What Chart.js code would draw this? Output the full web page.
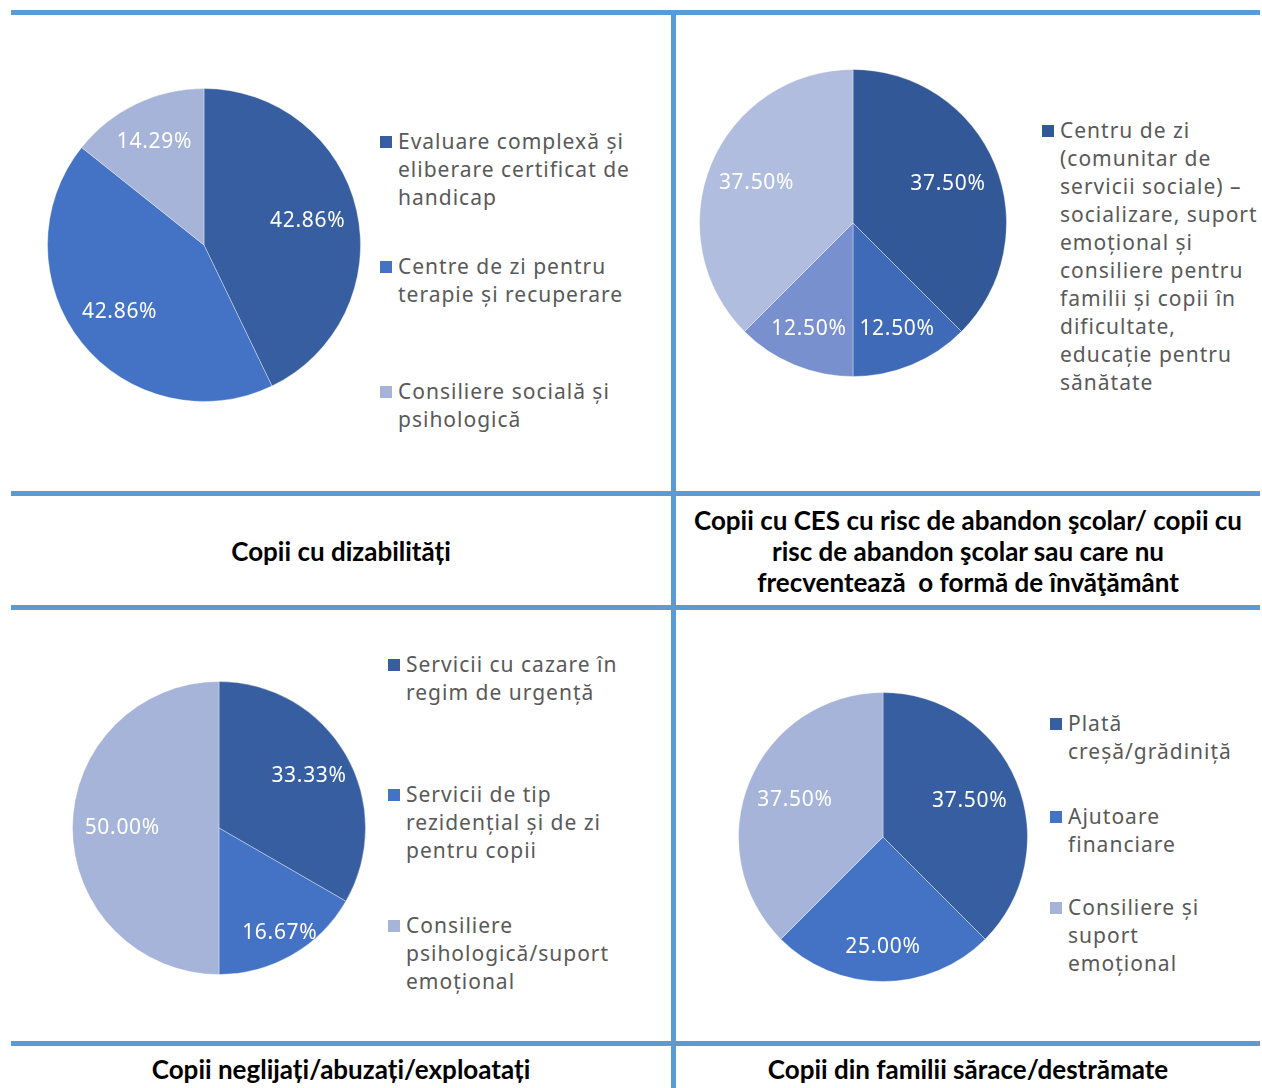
<!DOCTYPE html>
<html>
<head>
<meta charset="utf-8">
<script src="https://cdn.jsdelivr.net/npm/chart.js@4.4.1/dist/chart.umd.min.js"></script>
<style>
  body { margin:0; background:#fff; width:1262px; height:1088px; position:relative; overflow:hidden; font-family:"Noto Sans", sans-serif; }
  .hline { position:absolute; left:11px; width:1249px; height:5px; background:#5b9bd5; }
  .vline { position:absolute; left:671px; top:10px; width:5px; height:1078px; background:#5b9bd5; }
  canvas { position:absolute; }
  .legend { position:absolute; color:#595959; font-size:21px; line-height:28px; letter-spacing:1px; }
  .item { position:absolute; left:0; white-space:nowrap; }
  .sq { position:absolute; left:-18px; top:9px; width:12px; height:12px; }
  .title { position:absolute; font-family:Lato, sans-serif; font-weight:bold; font-size:26px; line-height:31px; color:#000; text-align:center; white-space:nowrap; }
</style>
</head>
<body>
<div class="hline" style="top:10px"></div>
<div class="hline" style="top:491px"></div>
<div class="hline" style="top:605px"></div>
<div class="hline" style="top:1041px"></div>
<div class="vline"></div>

<canvas id="pie1"></canvas>
<canvas id="pie2"></canvas>
<canvas id="pie3"></canvas>
<canvas id="pie4"></canvas>

<div class="title" style="left:11px;width:660px;top:536px">Copii cu dizabilități</div>
<div class="title" style="left:676px;width:584px;top:505px">Copii cu CES cu risc de abandon şcolar/ copii cu<br>risc de abandon şcolar sau care nu<br>frecventează&nbsp; o formă de învăţământ</div>
<div class="title" style="left:11px;width:660px;top:1054px">Copii neglijați/abuzați/exploatați</div>
<div class="title" style="left:676px;width:584px;top:1054px">Copii din familii sărace/destrămate</div>

<script>
// pie 1 - copii cu dizabilitati
const labels1 = [
  ['Evaluare complexă și', 'eliberare certificat de', 'handicap'],
  ['Centre de zi pentru', 'terapie și recuperare'],
  ['Consiliere socială și', 'psihologică']
];
const values1 = [42.86, 42.86, 14.29];
const colors1 = ['#365ea0', '#4472c4', '#a6b4d9'];

// pie 2 - CES / abandon scolar (legenda arata doar primul element)
const labels2 = [
  ['Centru de zi', '(comunitar de', 'servicii sociale) –', 'socializare, suport', 'emoțional și', 'consiliere pentru', 'familii și copii în', 'dificultate,', 'educație pentru', 'sănătate'],
  ['Serviciu 2'],
  ['Serviciu 3'],
  ['Serviciu 4']
];
const values2 = [37.5, 12.5, 12.5, 37.5];
const colors2 = ['#335898', '#3e6ab8', '#7890cd', '#b1bddf'];

// pie 3 - neglijati / abuzati
const labels3 = [
  ['Servicii cu cazare în', 'regim de urgență'],
  ['Servicii de tip', 'rezidențial și de zi', 'pentru copii'],
  ['Consiliere', 'psihologică/suport', 'emoțional']
];
const values3 = [33.33, 16.67, 50.00];
const colors3 = ['#365ea0', '#4472c4', '#a6b4d9'];

// pie 4 - familii sarace
const labels4 = [
  ['Plată', 'creșă/grădiniță'],
  ['Ajutoare', 'financiare'],
  ['Consiliere și', 'suport', 'emoțional']
];
const values4 = [37.5, 25.0, 37.5];
const colors4 = ['#365ea0', '#4472c4', '#a6b4d9'];

// etichete albe in felii (k = cat de departe de centru, ca fractie din raza)
const sliceLabels = {
  id: 'sliceLabels',
  afterDatasetsDraw(chart) {
    const ctx = chart.ctx;
    const meta = chart.getDatasetMeta(0);
    const data = chart.data.datasets[0].data;
    const k = chart.options.plugins.sliceLabels.k;
    ctx.save();
    ctx.fillStyle = '#ffffff';
    ctx.font = '21px "Noto Sans"';
    ctx.letterSpacing = '0.7px';
    ctx.textAlign = 'center';
    ctx.textBaseline = 'middle';
    meta.data.forEach(function(arc, i) {
      const p = arc.getProps(['x', 'y', 'startAngle', 'endAngle', 'outerRadius']);
      const mid = (p.startAngle + p.endAngle) / 2;
      const r = p.outerRadius * k[i];
      ctx.fillText(data[i].toFixed(2) + '%', p.x + Math.cos(mid) * r, p.y + Math.sin(mid) * r);
    });
    ctx.restore();
  }
};

function makePie(id, cx, cy, radius, values, colors, labels, k) {
  const el = document.getElementById(id);
  const size = radius * 2 + 2;
  el.width = size;
  el.height = size;
  el.style.left = (cx - size / 2) + 'px';
  el.style.top = (cy - size / 2) + 'px';
  return new Chart(el, {
    type: 'pie',
    data: {
      labels: labels.map(l => l.join(' ')),
      datasets: [{
        data: values,
        backgroundColor: colors,
        borderColor: 'rgba(255,255,255,0.35)',
        borderWidth: 1
      }]
    },
    options: {
      responsive: false,
      animation: false,
      layout: { padding: 0 },
      plugins: {
        legend: { display: false },
        tooltip: { enabled: false },
        sliceLabels: { k: k }
      }
    },
    plugins: [sliceLabels]
  });
}

// legenda in html
function makeLegend(left, tops, labels, colors) {
  const box = document.createElement('div');
  box.className = 'legend';
  box.style.left = left + 'px';
  box.style.top = '0px';
  tops.forEach(function(t, i) {
    const it = document.createElement('div');
    it.className = 'item';
    it.style.top = t + 'px';
    const sq = document.createElement('div');
    sq.className = 'sq';
    sq.style.background = colors[i];
    it.appendChild(sq);
    it.insertAdjacentHTML('beforeend', labels[i].join('<br>'));
    box.appendChild(it);
  });
  document.body.appendChild(box);
}

makePie('pie1', 204, 245, 156, values1, colors1, labels1, [0.68, 0.69, 0.73]);
makePie('pie2', 853, 223, 153, values2, colors2, labels2, [0.67, 0.75, 0.75, 0.68]);
makePie('pie3', 219, 828, 146, values3, colors3, labels3, [0.71, 0.83, 0.66]);
makePie('pie4', 883, 837, 144, values4, colors4, labels4, [0.65, 0.76, 0.66]);

makeLegend(398, [127, 252, 377], labels1, colors1);
makeLegend(1060, [116], labels2.slice(0, 1), colors2);
makeLegend(406, [650, 780, 911], labels3, colors3);
makeLegend(1068, [709, 802, 893], labels4, colors4);
</script>
</body>
</html>
